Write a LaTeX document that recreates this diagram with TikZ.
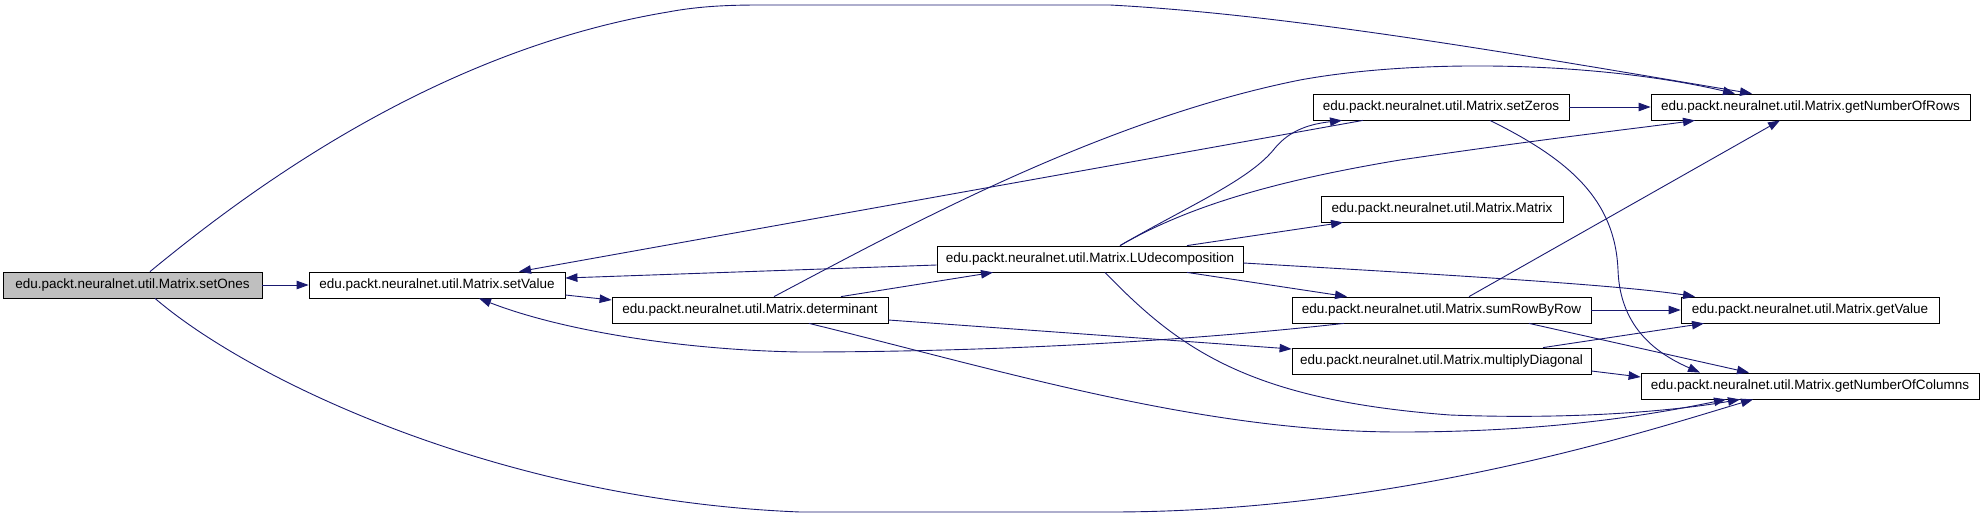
\documentclass[tikz,border=0pt]{standalone}
\usepackage{fontspec}
\setmainfont{Liberation Sans}
\usetikzlibrary{arrows.meta}
\definecolor{edgeblue}{RGB}{25,25,112}
\definecolor{nodegrey}{RGB}{191,191,191}
\begin{document}
\begin{tikzpicture}[x=1pt,y=-1pt,
  fn/.style={draw=black, line width=0.8pt, fill=white, minimum height=26pt, inner sep=0pt,
             font=\fontsize{13.5}{16}\selectfont, text=black},
  cur/.style={fn, fill=nodegrey},
  call/.style={draw=edgeblue, line width=0.9pt, -{Triangle[length=12pt,width=8.5pt]}}]
\useasboundingbox (0,0) rectangle (1984,517);

\node[cur, minimum width=259pt] (setOnes)  at (132.5,285) {edu.packt.neuralnet.util.Matrix.setOnes};
\node[fn, minimum width=256pt] (setValue)  at (437,285)   {edu.packt.neuralnet.util.Matrix.setValue};
\node[fn, minimum width=276pt] (det)       at (750,310)   {edu.packt.neuralnet.util.Matrix.determinant};
\node[fn, minimum width=306pt] (LU)        at (1090,259)  {edu.packt.neuralnet.util.Matrix.LUdecomposition};
\node[fn, minimum width=256pt] (setZeros)  at (1441,107)  {edu.packt.neuralnet.util.Matrix.setZeros};
\node[fn, minimum width=319pt] (gRows)     at (1810.5,107){edu.packt.neuralnet.util.Matrix.getNumberOfRows};
\node[fn, minimum width=242pt] (Matrix)    at (1442,209)  {edu.packt.neuralnet.util.Matrix.Matrix};
\node[fn, minimum width=299pt] (sumRow)    at (1441.5,310){edu.packt.neuralnet.util.Matrix.sumRowByRow};
\node[fn, minimum width=258pt] (getValue)  at (1810,310)  {edu.packt.neuralnet.util.Matrix.getValue};
\node[fn, minimum width=299pt] (mult)      at (1441.5,361){edu.packt.neuralnet.util.Matrix.multiplyDiagonal};
\node[fn, minimum width=338pt] (gCols)     at (1810,386)  {edu.packt.neuralnet.util.Matrix.getNumberOfColumns};

% setOnes
\draw[call] (setOnes.east) -- (setValue.west);
\draw[call] ([xshift=17.5pt]setOnes.north) .. controls (255,185) and (440,50) .. (668,12)
  .. controls (700,6) and (730,5) .. (760,5) -- (1110,5)
  .. controls (1300,15) and (1550,60) .. ([xshift=-58.5pt]gRows.north);
\draw[call] ([xshift=22.5pt]setOnes.south) .. controls (250,380) and (500,500) .. (800,512)
  -- (1110,512) .. controls (1400,512) and (1650,430) .. ([xshift=-57pt]gCols.south);

% setValue
\draw[call] ([yshift=-10pt]setValue.east) -- ([yshift=10pt]det.west);

% determinant
\draw[call] ([xshift=91pt]det.north) -- ([xshift=-97pt]LU.south);
\draw[call] ([xshift=24pt]det.north) .. controls (900,230) and (1100,120) .. (1300,80)
  .. controls (1420,58) and (1600,62) .. ([xshift=-75.5pt]gRows.north);
\draw[call] ([yshift=-10pt]det.east) -- ([yshift=12pt]mult.west);
\draw[call] ([xshift=59pt]det.south) .. controls (1000,370) and (1200,432) .. (1400,432)
  .. controls (1550,432) and (1650,415) .. ([xshift=-84pt]gCols.south);

% LUdecomposition
\draw[call] ([yshift=-6pt]LU.west) -- ([yshift=7pt]setValue.east);
\draw[call] ([xshift=30pt]LU.north) .. controls (1190,205) and (1250,180) .. (1275,148)
  .. controls (1290,130) and (1310,124) .. ([xshift=-99pt]setZeros.south);
\draw[call] ([xshift=30pt]LU.north) .. controls (1190,205) and (1280,180) .. (1400,160)
  .. controls (1550,138) and (1640,128) .. ([xshift=-115.5pt]gRows.south);
\draw[call] ([xshift=97pt]LU.north) -- ([xshift=-99pt]Matrix.south);
\draw[call] ([xshift=97pt]LU.south) -- ([xshift=-94.5pt]sumRow.north);
\draw[call] ([yshift=-4pt]LU.east) .. controls (1450,275) and (1620,285) .. ([xshift=-115pt]getValue.north);
\draw[call] ([xshift=15pt]LU.south) .. controls (1180,350) and (1250,400) .. (1450,415)
  .. controls (1580,420) and (1680,410) .. ([xshift=-70pt]gCols.south);

% setZeros
\draw[call] ([xshift=-78pt]setZeros.south) -- ([xshift=82pt]setValue.north);
\draw[call] (setZeros.east) -- (gRows.west);
\draw[call] ([xshift=49pt]setZeros.south) .. controls (1570,160) and (1615,200) .. (1618,270)
  .. controls (1620,330) and (1660,355) .. ([xshift=-110pt]gCols.north);

% sumRowByRow
\draw[call] ([xshift=-97.5pt]sumRow.south) .. controls (1150,345) and (950,352) .. (800,352)
  .. controls (680,350) and (560,330) .. ([xshift=42pt]setValue.south);
\draw[call] ([xshift=27.5pt]sumRow.north) -- ([xshift=-30.5pt]gRows.south);
\draw[call] (sumRow.east) -- (getValue.west);
\draw[call] ([xshift=87.5pt]sumRow.south) -- ([xshift=-61pt]gCols.north);

% multiplyDiagonal
\draw[call] ([xshift=101.5pt]mult.north) -- ([xshift=-106pt]getValue.south);
\draw[call] ([yshift=-10pt]mult.east) -- ([yshift=9pt]gCols.west);
\end{tikzpicture}
\end{document}
